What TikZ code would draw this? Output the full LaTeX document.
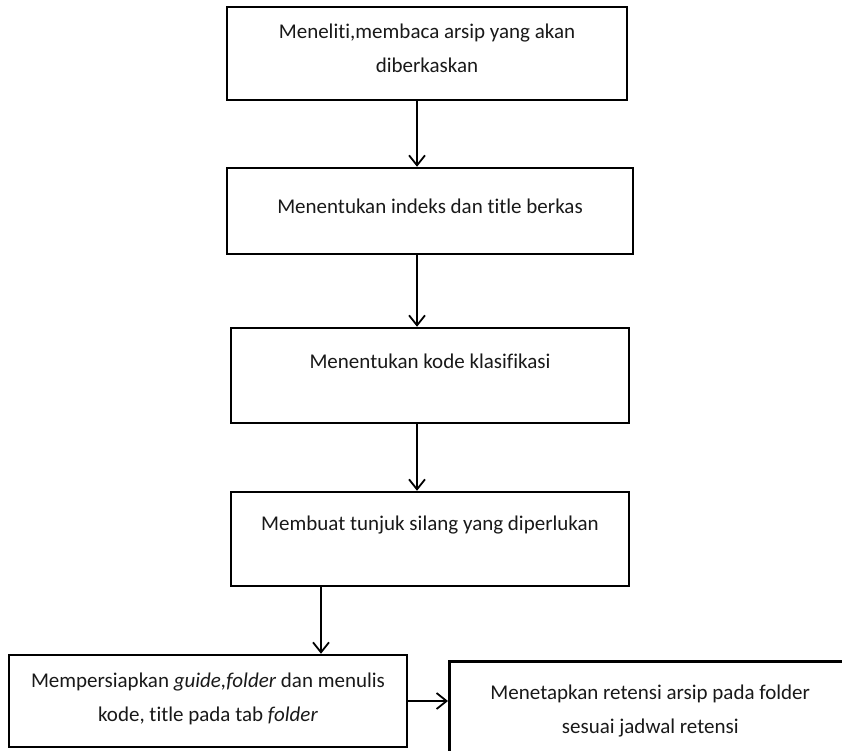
\documentclass[tikz,border=0pt]{standalone}
\usepackage{fontspec}
\setmainfont{Carlito}[Ligatures={NoCommon}]
\usetikzlibrary{arrows.meta}
\begin{document}
\begin{tikzpicture}[x=1pt,y=-1pt,
  box/.style={draw=black, line width=2.5pt, rectangle, inner sep=0pt, align=center,
    font=\fontsize{21pt}{34pt}\selectfont, text=black!90},
  conn/.style={line width=1.8pt, -{Straight Barb[length=10pt,width=16pt,line width=1.8pt]}}]
\useasboundingbox (0,0) rectangle (842,750);
\node[box, minimum width=400pt, minimum height=93pt, text depth=10pt] (b1) at (427,53.5)
  {Meneliti,membaca arsip yang akan\\diberkaskan};
\node[box, minimum width=406pt, minimum height=86pt, text depth=10pt] (b2) at (430,211)
  {Menentukan indeks dan title berkas};
\node[box, minimum width=398pt, minimum height=95pt, text depth=28pt] (b3) at (430,375.5)
  {Menentukan kode klasifikasi};
\node[box, minimum width=398pt, minimum height=94pt, text depth=32pt] (b4) at (430,539)
  {Membuat tunjuk silang yang diperlukan};
\node[box, minimum width=398pt, minimum height=92pt, text depth=8pt] (b5) at (208,701)
  {Mempersiapkan \textit{guide,folder} dan menulis\\kode, title pada tab \textit{folder}};
\node[box, minimum width=402pt, minimum height=100pt, text depth=4pt, anchor=north west] (b6) at (448,660)
  {Menetapkan retensi arsip pada folder\\sesuai jadwal retensi};
\coordinate (cx) at (417,0);
\coordinate (cy) at (321,0);
\draw[conn] (b1.south -| cx) -- (b2.north -| cx);
\draw[conn] (b2.south -| cx) -- (b3.north -| cx);
\draw[conn] (b3.south -| cx) -- (b4.north -| cx);
\draw[conn] (b4.south -| cy) -- (b5.north -| cy);
\draw[conn] (b5.east) -- (b6.west |- b5.east);
\end{tikzpicture}
\end{document}
